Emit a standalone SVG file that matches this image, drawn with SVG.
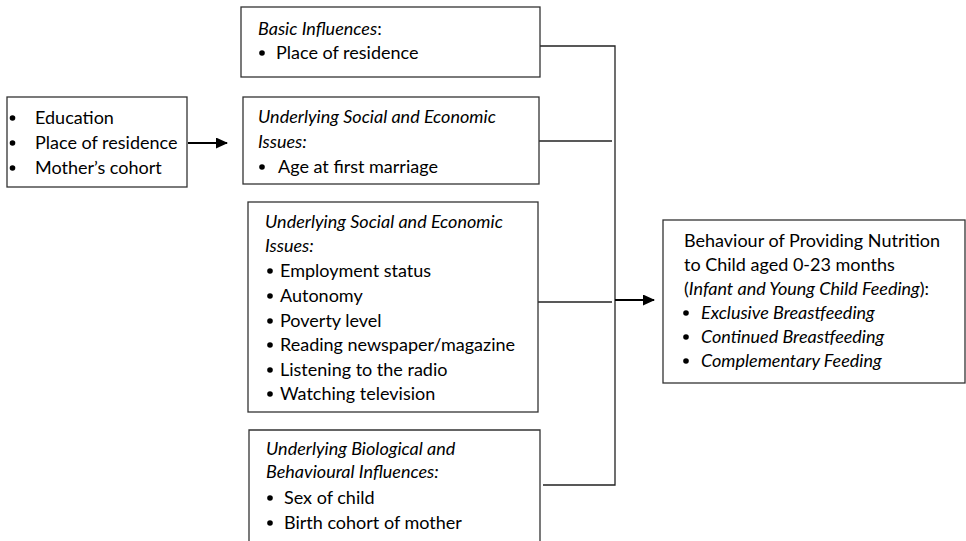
<svg xmlns="http://www.w3.org/2000/svg" width="966" height="541" viewBox="0 0 966 541">
<style>
.box{fill:#fff;stroke:#333;stroke-width:1.3}
.ln{fill:none;stroke:#222;stroke-width:1.3}
.ar{fill:none;stroke:#000;stroke-width:2}
text{font-family:Lato,"Open Sans","Liberation Sans",sans-serif;font-size:18px;fill:#000}
.i{font-style:italic}
.b{fill:#000}
</style>
<defs>
<marker id="ah" markerWidth="12" markerHeight="11" refX="11" refY="5.5" orient="auto" markerUnits="userSpaceOnUse">
<path d="M0,0 L12,5.5 L0,11 z" fill="#000"/>
</marker>
</defs>
<rect width="966" height="541" fill="#fff"/>
<g id="connectors">
<line class="ar" x1="188" y1="143" x2="227" y2="143" marker-end="url(#ah)"/>
<polyline class="ln" points="540,46 615,46 615,485 543,485"/>
<line class="ln" x1="539" y1="141" x2="612" y2="141"/>
<line class="ln" x1="538" y1="302" x2="612" y2="302"/>
<line class="ar" x1="615" y1="300" x2="654" y2="300" marker-end="url(#ah)"/>
</g>
<g id="node-left">
<rect class="box" x="7" y="97" width="180" height="90"/>
<circle class="b" cx="12.5" cy="118" r="2.8"/>
<circle class="b" cx="12.5" cy="143" r="2.8"/>
<circle class="b" cx="12.5" cy="168" r="2.8"/>
<text x="35" y="124">Education</text>
<text x="35" y="149">Place of residence</text>
<text x="35" y="174">Mother’s cohort</text>
</g>
<g id="node-basic">
<rect class="box" x="241" y="7" width="299" height="70"/>
<text x="258" y="35"><tspan class="i">Basic Influences</tspan>:</text>
<circle class="b" cx="262" cy="53" r="2.8"/>
<text x="276" y="59">Place of residence</text>
</g>
<g id="node-social1">
<rect class="box" x="243" y="97" width="296" height="87"/>
<text class="i" x="258" y="123">Underlying Social and Economic</text>
<text class="i" x="258" y="148">Issues:</text>
<circle class="b" cx="262" cy="167" r="2.8"/>
<text x="278" y="173">Age at first marriage</text>
</g>
<g id="node-social2">
<rect class="box" x="248" y="202" width="290" height="210"/>
<text class="i" x="265" y="228">Underlying Social and Economic</text>
<text class="i" x="265" y="252">Issues:</text>
<circle class="b" cx="270" cy="271" r="2.8"/>
<circle class="b" cx="270" cy="296" r="2.8"/>
<circle class="b" cx="270" cy="321" r="2.8"/>
<circle class="b" cx="270" cy="345" r="2.8"/>
<circle class="b" cx="270" cy="370" r="2.8"/>
<circle class="b" cx="270" cy="394" r="2.8"/>
<text x="280" y="277">Employment status</text>
<text x="280" y="302">Autonomy</text>
<text x="280" y="327">Poverty level</text>
<text x="280" y="351">Reading newspaper/magazine</text>
<text x="280" y="376">Listening to the radio</text>
<text x="280" y="400">Watching television</text>
</g>
<g id="node-bio">
<path class="box" d="M249,545 L249,430 L540,430 L540,545"/>
<text class="i" x="266" y="455">Underlying Biological and</text>
<text class="i" x="266" y="478">Behavioural Influences:</text>
<circle class="b" cx="270" cy="498" r="2.8"/>
<circle class="b" cx="270" cy="523" r="2.8"/>
<text x="284" y="504">Sex of child</text>
<text x="284" y="529">Birth cohort of mother</text>
</g>
<g id="node-outcome">
<rect class="box" x="663" y="220" width="302" height="163"/>
<text x="684" y="247">Behaviour of Providing Nutrition</text>
<text x="684" y="271">to Child aged 0-23 months</text>
<text x="684" y="295">(<tspan class="i">Infant and Young Child Feeding</tspan>):</text>
<circle class="b" cx="686" cy="313" r="2.8"/>
<circle class="b" cx="686" cy="337" r="2.8"/>
<circle class="b" cx="686" cy="361" r="2.8"/>
<text class="i" x="701" y="319">Exclusive Breastfeeding</text>
<text class="i" x="701" y="343">Continued Breastfeeding</text>
<text class="i" x="701" y="367">Complementary Feeding</text>
</g>
</svg>
